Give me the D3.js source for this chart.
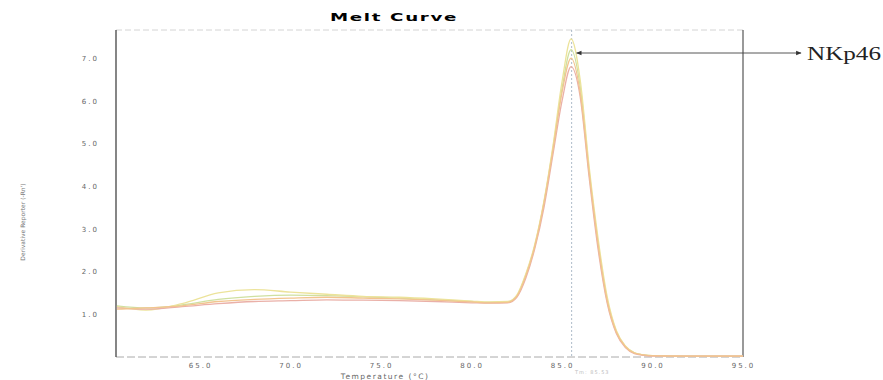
<!DOCTYPE html>
<html>
<head>
<meta charset="utf-8">
<script src="https://cdn.jsdelivr.net/npm/d3@7"></script>
<style>
  body { margin: 0; background: #fff; }
  svg { display: block; }
</style>
</head>
<body>
<script>
// melt curve data
var temps = [60.4, 62, 64, 66, 68, 70, 72, 74, 76, 78, 80, 81, 82, 82.5, 83, 83.5, 84, 84.5, 85, 85.5, 86, 86.5, 87, 87.5, 88, 88.5, 89, 89.5, 90, 91, 92, 93, 94, 95];
var yellowVals = [1.18, 1.1, 1.25, 1.5, 1.58, 1.52, 1.47, 1.42, 1.4, 1.36, 1.31, 1.29, 1.3, 1.45, 1.95, 2.65, 3.65, 4.95, 6.45, 7.45, 6.5, 4.45, 2.75, 1.4, 0.62, 0.26, 0.1, 0.05, 0.03, 0.03, 0.02, 0.02, 0.02, 0.02];
var orangeVals = [1.12, 1.15, 1.2, 1.3, 1.35, 1.38, 1.4, 1.38, 1.36, 1.33, 1.29, 1.27, 1.28, 1.42, 1.9, 2.6, 3.6, 4.85, 6.2, 7.0, 6.2, 4.3, 2.6, 1.3, 0.58, 0.24, 0.09, 0.05, 0.03, 0.02, 0.02, 0.02, 0.02, 0.02];
var redVals = [1.15, 1.12, 1.18, 1.25, 1.3, 1.32, 1.34, 1.33, 1.32, 1.3, 1.27, 1.26, 1.27, 1.4, 1.85, 2.55, 3.5, 4.75, 6.0, 6.8, 6.1, 4.2, 2.5, 1.25, 0.55, 0.22, 0.08, 0.04, 0.02, 0.02, 0.02, 0.02, 0.02, 0.02];
var greenVals = [1.2, 1.15, 1.22, 1.35, 1.42, 1.45, 1.44, 1.41, 1.38, 1.34, 1.3, 1.28, 1.29, 1.43, 1.92, 2.62, 3.62, 4.9, 6.3, 7.2, 6.35, 4.35, 2.65, 1.33, 0.6, 0.25, 0.1, 0.05, 0.03, 0.02, 0.02, 0.02, 0.02, 0.02];
var xTicks = [65, 70, 75, 80, 85, 90, 95];
var yTicks = [1, 2, 3, 4, 5, 6, 7];
var tmValue = 85.53;

var W = 883, H = 380;
var plotLeft = 116, plotRight = 743, plotTop = 30, plotBottom = 357;

var svg = d3.select("body").append("svg")
    .attr("width", W)
    .attr("height", H);

var x = d3.scaleLinear().domain([60.35, 95]).range([plotLeft, plotRight]);
var y = d3.scaleLinear().domain([0, 7.66]).range([plotBottom, plotTop]);

// title
svg.append("text")
    .attr("x", 330).attr("y", 21)
    .attr("textLength", 128)
    .attr("lengthAdjust", "spacingAndGlyphs")
    .style("font-family", "'DejaVu Sans', sans-serif")
    .style("font-weight", "bold")
    .style("font-size", "11px")
    .style("letter-spacing", "1px")
    .text("Melt Curve");

// frame: faint dashed top + bottom, dark left and right
svg.append("line")
    .attr("x1", plotLeft).attr("x2", plotRight).attr("y1", plotTop).attr("y2", plotTop)
    .style("stroke", "#d4d4d4").style("stroke-dasharray", "6,3");
svg.append("line")
    .attr("x1", plotLeft).attr("x2", plotRight).attr("y1", plotBottom).attr("y2", plotBottom)
    .style("stroke", "#aaa").style("stroke-dasharray", "8,3");
svg.append("line")
    .attr("x1", plotLeft).attr("x2", plotLeft).attr("y1", plotTop).attr("y2", plotBottom)
    .style("stroke", "#444").style("stroke-width", 1.3);
svg.append("line")
    .attr("x1", plotRight).attr("x2", plotRight).attr("y1", plotTop).attr("y2", plotBottom)
    .style("stroke", "#555").style("stroke-width", 1.2);

// axes
var yAxis = svg.append("g")
    .attr("transform", "translate(" + (plotLeft - 14) + ",0)")
    .call(d3.axisLeft(y).tickValues(yTicks).tickSize(0).tickFormat(d3.format(".1f")));
var xAxis = svg.append("g")
    .attr("transform", "translate(0," + (plotBottom + 3) + ")")
    .call(d3.axisBottom(x).tickValues(xTicks).tickSize(0).tickFormat(d3.format(".1f")));
[yAxis, xAxis].forEach(function(g) {
    g.select(".domain").remove();
    g.selectAll("text")
        .style("font-family", "'DejaVu Sans', sans-serif")
        .style("font-size", "7px")
        .style("letter-spacing", "2px")
        .style("fill", "#666");
});

// axis titles
svg.append("text")
    .attr("transform", "translate(25,222) rotate(-90)")
    .attr("text-anchor", "middle")
    .style("font-family", "'DejaVu Sans', sans-serif")
    .style("font-size", "6px")
    .style("fill", "#777")
    .text("Derivative Reporter (-Rn')");
svg.append("text")
    .attr("x", 385).attr("y", 379)
    .attr("text-anchor", "middle")
    .style("font-family", "'DejaVu Sans', sans-serif")
    .style("font-size", "7.5px")
    .style("letter-spacing", "1.5px")
    .style("fill", "#666")
    .text("Temperature (°C)");
svg.append("text")
    .attr("x", 575).attr("y", 374)
    .style("font-family", "'DejaVu Sans', sans-serif")
    .style("font-size", "5px")
    .style("letter-spacing", "1px")
    .style("fill", "#bbb")
    .text("Tm: " + tmValue);

// Tm marker
svg.append("line")
    .attr("x1", x(tmValue)).attr("x2", x(tmValue)).attr("y1", plotTop).attr("y2", plotBottom)
    .style("stroke", "#9ab").style("stroke-dasharray", "2,2").style("stroke-width", 0.8);

// curves
var line = d3.line()
    .x(function(d) { return x(d[0]); })
    .y(function(d) { return y(d[1]); })
    .curve(d3.curveMonotoneX);
var series = [
    { vals: greenVals, color: "#cfe0a0" },
    { vals: yellowVals, color: "#ece39a" },
    { vals: redVals, color: "#eab0a8" },
    { vals: orangeVals, color: "#f2c48f" }
];
series.forEach(function(s) {
    svg.append("path")
        .datum(temps.map(function(t, i) { return [t, s.vals[i]]; }))
        .attr("d", line)
        .style("fill", "none")
        .style("stroke", s.color)
        .style("stroke-width", 1.3);
});

// annotation arrow
var defs = svg.append("defs");
defs.append("marker")
    .attr("id", "ah").attr("viewBox", "0 0 10 10")
    .attr("refX", 9).attr("refY", 5)
    .attr("markerWidth", 7).attr("markerHeight", 6)
    .attr("orient", "auto-start-reverse")
    .append("path").attr("d", "M0,1L10,5L0,9Z").style("fill", "#333");
svg.append("line")
    .attr("x1", x(tmValue) + 5).attr("x2", 801).attr("y1", 53).attr("y2", 53)
    .style("stroke", "#444").style("stroke-width", 0.9)
    .attr("marker-start", "url(#ah)")
    .attr("marker-end", "url(#ah)");
svg.append("text")
    .attr("x", 807).attr("y", 60)
    .attr("textLength", 74)
    .attr("lengthAdjust", "spacingAndGlyphs")
    .style("font-family", "'Liberation Serif', serif")
    .style("font-size", "19px")
    .style("fill", "#222")
    .text("NKp46");
</script>
</body>
</html>
